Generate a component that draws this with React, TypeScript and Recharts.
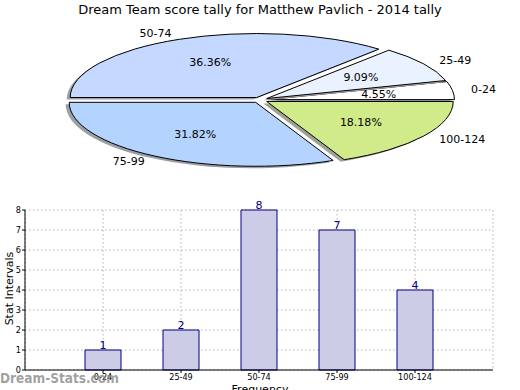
import { Bar, BarChart, CartesianGrid, LabelList, Pie, PieChart, XAxis, YAxis } from 'recharts';

const categories = ['0-24', '25-49', '50-74', '75-99', '100-124'];
const counts = [1, 2, 8, 7, 4];
const sliceColors = ['#ffffff', '#eaf1ff', '#c5d8ff', '#b4d3fe', '#d1eb8a'];
const yTicks = [0, 1, 2, 3, 4, 5, 6, 7, 8];

const FONT = '"DejaVu Sans", sans-serif';
const COND = '"DejaVu Sans Condensed", "DejaVu Sans", sans-serif';
const RY_RATIO = 0.343; // squashed pie
const EXPLODE = 8;
const RAD = Math.PI / 180;

const pieData = categories.map((name, i) => ({ name, value: counts[i] }));
const barData = categories.map((name, i) => ({ pos: i + 1, name, count: counts[i] }));

function shade(hex: string) {
  const n = parseInt(hex.slice(1), 16);
  const ch = [(n >> 16) & 255, (n >> 8) & 255, n & 255].map(c => Math.round(0.5 * 0.3 * c + 0.5 * 255));
  return `rgb(${ch.join(',')})`;
}

function slicePath(x0: number, y0: number, r: number, ry: number, a0: number, a1: number) {
  const p = (a: number) => [x0 + r * Math.cos(a * RAD), y0 - ry * Math.sin(a * RAD)];
  const [sx, sy] = p(a0);
  const [ex, ey] = p(a1);
  const large = a1 - a0 > 180 ? 1 : 0;
  return `M${x0},${y0} L${sx},${sy} A${r},${ry} 0 ${large} 0 ${ex},${ey} Z`;
}

function offsetOf(mid: number, ry: number, r: number) {
  return [EXPLODE * Math.cos(mid * RAD), -EXPLODE * (ry / r) * Math.sin(mid * RAD)];
}

function renderSlice(props: any) {
  const { cx, cy, outerRadius, startAngle, endAngle, midAngle, index } = props;
  const r = outerRadius;
  const ry = r * RY_RATIO;
  const [dx, dy] = offsetOf(midAngle, ry, r);
  const fill = sliceColors[index];
  return (
    <g key={`s${index}`}>
      <path d={slicePath(cx + dx - 3.5, cy + dy + 2, r, ry, startAngle, endAngle)} fill={shade(fill)} stroke="none" />
      <path d={slicePath(cx + dx, cy + dy, r, ry, startAngle, endAngle)} fill={fill} stroke="#000" strokeWidth={1} />
    </g>
  );
}

function renderText(props: any) {
  const { cx, cy, outerRadius, midAngle, percent, index } = props;
  const r = outerRadius;
  const ry = r * RY_RATIO;
  const [dx, dy] = offsetOf(midAngle, ry, r);
  const c = Math.cos(midAngle * RAD);
  const s = Math.sin(midAngle * RAD);
  return (
    <g key={`t${index}`} style={{ fontFamily: FONT, fontSize: 11 }}>
      <text x={cx + dx + 1.1 * r * c} y={cy + dy - 1.1 * ry * s} textAnchor={c < 0 ? 'end' : 'start'} dominantBaseline="central" fill="#000">
        {categories[index]}
      </text>
      <text x={cx + dx + 0.6 * r * c} y={cy + dy - 0.6 * ry * s} textAnchor="middle" dominantBaseline="central" fill="#000">
        {(percent * 100).toFixed(2)}%
      </text>
    </g>
  );
}

export default function App() {
  return (
    <div style={{ position: 'absolute', left: 0, top: 0, width: 520, height: 390, background: '#fff', overflow: 'hidden', fontFamily: FONT }}>
      <div style={{ position: 'absolute', top: 2, left: 0, width: 520, textAlign: 'center', fontSize: 13 }}>
        Dream Team score tally for Matthew Pavlich - 2014 tally
      </div>

      <div style={{ position: 'absolute', top: 0, left: 0 }}>
        <PieChart width={520} height={200}>
          <Pie
            data={pieData}
            dataKey="value"
            nameKey="name"
            cx={255}
            cy={95}
            outerRadius={186.5}
            startAngle={0}
            endAngle={360}
            fill="transparent"
            stroke="none"
            label={renderSlice}
            labelLine={false}
            isAnimationActive={false}
          />
          <Pie
            data={pieData}
            dataKey="value"
            nameKey="name"
            cx={255}
            cy={95}
            outerRadius={186.5}
            startAngle={0}
            endAngle={360}
            fill="transparent"
            stroke="none"
            label={renderText}
            labelLine={false}
            isAnimationActive={false}
          />
        </PieChart>
      </div>

      <div style={{ position: 'absolute', top: 190, left: 0 }}>
        <BarChart width={520} height={200} data={barData} margin={{ top: 20, right: 27, left: 5, bottom: 0 }}>
          <CartesianGrid stroke="#b0b0b0" strokeDasharray="1.5 2.5" />
          <XAxis
            dataKey="pos"
            type="number"
            domain={[0, 6]}
            ticks={[1, 2, 3, 4, 5]}
            tickFormatter={(v: number) => categories[v - 1]}
            height={20}
            tick={{ fontSize: 9, fill: '#000', fontFamily: COND }}
            tickSize={3}
            tickMargin={1}
            axisLine={{ stroke: '#000' }}
            tickLine={{ stroke: '#000' }}
          />
          <XAxis xAxisId="top" orientation="top" type="number" domain={[0, 1]} height={0} tick={false} tickLine={false} axisLine={{ stroke: '#000' }} />
          <YAxis
            domain={[0, 8]}
            ticks={yTicks}
            width={20}
            interval={0}
            tick={{ fontSize: 9, fill: '#000', fontFamily: COND }}
            tickSize={3}
            tickMargin={1}
            axisLine={{ stroke: '#000' }}
            tickLine={{ stroke: '#000' }}
          />
          <YAxis yAxisId="right" orientation="right" domain={[0, 1]} width={0} tick={false} tickLine={false} axisLine={{ stroke: '#000' }} />
          <Bar dataKey="count" barSize={36} fill="#ccccE6" stroke="#000080" strokeWidth={1} isAnimationActive={false}>
            <LabelList dataKey="count" position="top" offset={1} fill="#000080" fontSize={11} fontFamily={FONT} />
          </Bar>
        </BarChart>
      </div>

      <div style={{ position: 'absolute', left: -41, top: 282, width: 100, textAlign: 'center', fontSize: 11, transform: 'rotate(-90deg)' }}>
        Stat Intervals
      </div>
      <div style={{ position: 'absolute', left: 0, top: 383, width: 520, textAlign: 'center', fontSize: 11 }}>
        Frequency
      </div>
      <div style={{ position: 'absolute', left: 0, top: 370, fontSize: 13.5, fontWeight: 'bold', fontFamily: COND, color: 'rgba(130,130,130,0.75)' }}>
        Dream-Stats.com
      </div>
    </div>
  );
}
